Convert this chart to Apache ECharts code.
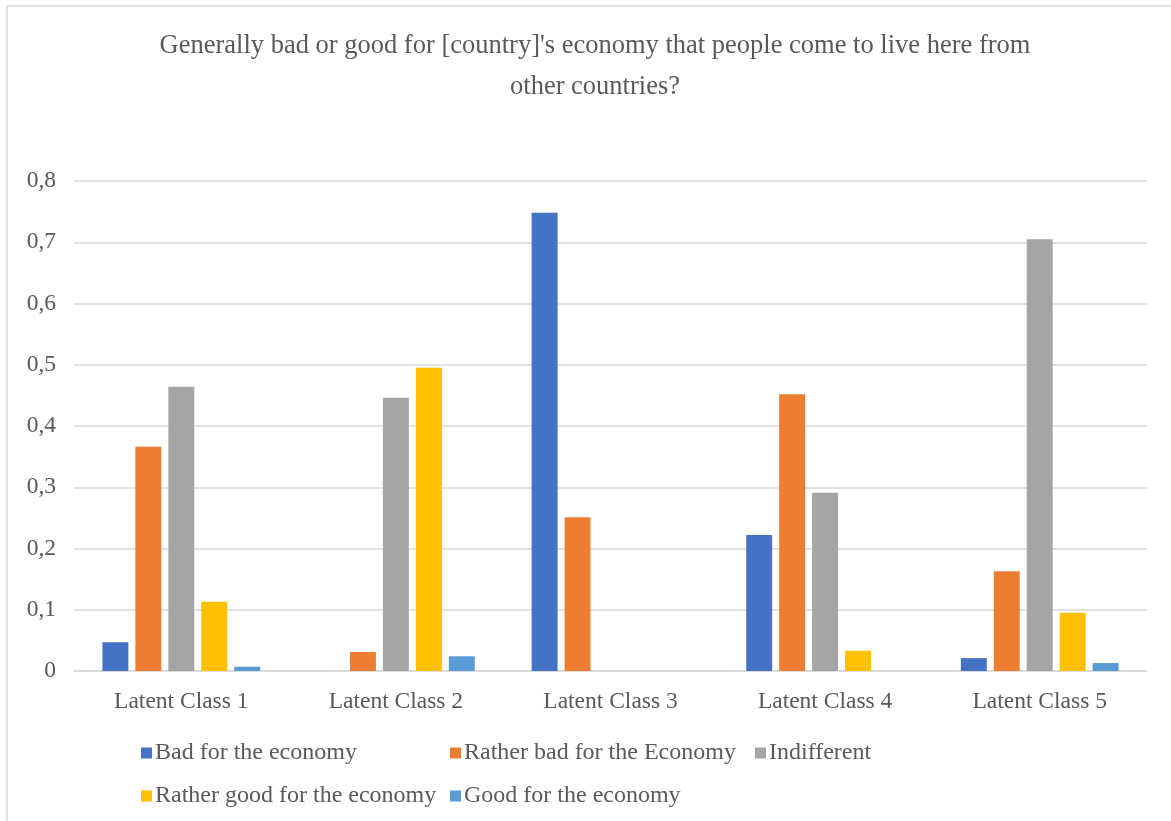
<!DOCTYPE html>
<html>
<head>
<meta charset="utf-8">
<style>
  html, body { margin: 0; padding: 0; background: #ffffff; }
  #chart { width: 1171px; height: 821px; }
</style>
<script src="https://cdn.jsdelivr.net/npm/echarts@6/dist/echarts.min.js"></script>
</head>
<body>
<div id="chart"></div>
<script>
// Latent classes along the x axis
const categories = ['Latent Class 1', 'Latent Class 2', 'Latent Class 3', 'Latent Class 4', 'Latent Class 5'];

// Response shares per latent class
const badForEconomy        = [0.047, 0.000, 0.748, 0.222, 0.021];
const ratherBadForEconomy  = [0.366, 0.031, 0.251, 0.452, 0.163];
const indifferent          = [0.464, 0.446, 0.000, 0.291, 0.705];
const ratherGoodForEconomy = [0.113, 0.495, 0.000, 0.033, 0.095];
const goodForEconomy       = [0.007, 0.024, 0.000, 0.000, 0.013];

const seriesNames = [
  'Bad for the economy',
  'Rather bad for the Economy',
  'Indifferent',
  'Rather good for the economy',
  'Good for the economy'
];
const seriesValues = [badForEconomy, ratherBadForEconomy, indifferent, ratherGoodForEconomy, goodForEconomy];
const seriesColors = ['#4472C4', '#ED7D31', '#A5A5A5', '#FFC000', '#5B9BD5'];

// Y axis ticks
const yMin = 0, yMax = 0.8, yStep = 0.1;

const FONT = '"Liberation Serif", "Times New Roman", serif';
const TEXT = '#595959';

// Legend entries laid out in two rows with aligned columns
const legendSlots = [
  { left: 141, top: 741 },
  { left: 450, top: 741 },
  { left: 755, top: 741 },
  { left: 141, top: 784 },
  { left: 450, top: 784 }
];

const chart = echarts.init(document.getElementById('chart'), null, { renderer: 'canvas' });

chart.setOption({
  backgroundColor: '#ffffff',
  animation: false,
  title: {
    text: "Generally bad or good for [country]'s economy that people come to live here from\nother countries?",
    left: 590,
    textAlign: 'center',
    top: 21,
    textStyle: {
      fontFamily: FONT,
      fontSize: 26.5,
      fontWeight: 'normal',
      color: TEXT,
      lineHeight: 41
    }
  },
  graphic: [
    { type: 'line', shape: { x1: 7, y1: 6, x2: 1171, y2: 6 }, style: { stroke: '#D9D9D9', lineWidth: 1.5 }, silent: true },
    { type: 'line', shape: { x1: 7, y1: 6, x2: 7, y2: 821 }, style: { stroke: '#D9D9D9', lineWidth: 1.5 }, silent: true }
  ],
  legend: seriesNames.map((name, i) => ({
    data: [name],
    left: legendSlots[i].left,
    top: legendSlots[i].top,
    icon: 'rect',
    itemWidth: 11,
    itemHeight: 11,
    itemGap: 0,
    padding: 0,
    textStyle: { fontFamily: FONT, fontSize: 24, color: TEXT, padding: [0, 0, 0, -2] }
  })),
  grid: { left: 74, right: 24, top: 181, bottom: 150, containLabel: false },
  xAxis: {
    type: 'category',
    data: categories,
    axisLine: { show: true, lineStyle: { color: '#D9D9D9', width: 1.5 } },
    axisTick: { show: false },
    axisLabel: { fontFamily: FONT, fontSize: 23.5, color: TEXT, margin: 19 }
  },
  yAxis: {
    type: 'value',
    min: yMin,
    max: yMax,
    interval: yStep,
    axisLine: { show: false },
    axisTick: { show: false },
    splitLine: { lineStyle: { color: '#D9D9D9', width: 1.5 } },
    axisLabel: {
      fontFamily: FONT,
      fontSize: 23.5,
      color: TEXT,
      margin: 18,
      formatter: v => (Math.round(v * 10) / 10).toString().replace('.', ',')
    }
  },
  series: seriesNames.map((name, i) => ({
    name: name,
    type: 'bar',
    data: seriesValues[i],
    barGap: '27%',
    barCategoryGap: '26.5%',
    itemStyle: { color: seriesColors[i] }
  }))
});
</script>
</body>
</html>
